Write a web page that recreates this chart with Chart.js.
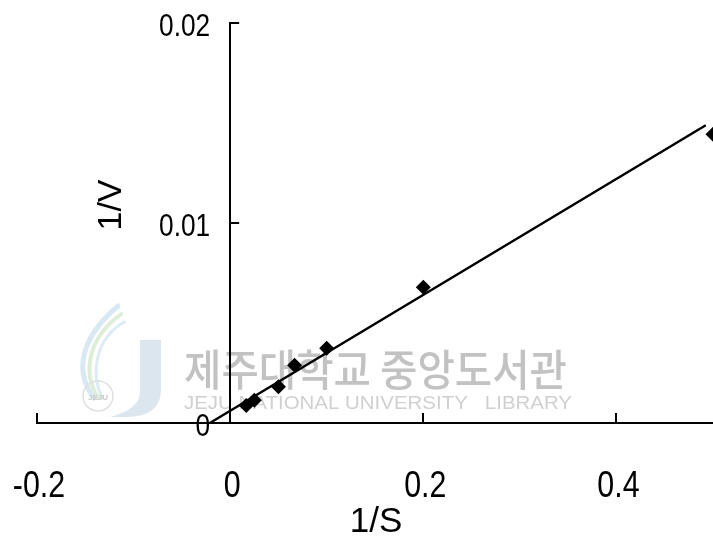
<!DOCTYPE html>
<html>
<head>
<meta charset="utf-8">
<script src="https://cdn.jsdelivr.net/npm/chart.js@4/dist/chart.umd.min.js"></script>
<style>
  html, body { margin: 0; padding: 0; background: #fff; }
  #wrap { width: 713px; height: 539px; }
</style>
</head>
<body>
<div id="wrap"><canvas id="c" width="713" height="539"></canvas></div>
<script>
// Lineweaver-Burk plot: 1/V against 1/S
const invS = [0.0167, 0.025, 0.05, 0.0667, 0.1, 0.2, 0.5];
const invV = [0.00088, 0.00114, 0.00181, 0.00289, 0.00374, 0.00679, 0.01444];

// end points of the fitted line
const fitX = [-0.021, 0.4925];
const fitY = [0, 0.01489];

const xTicks = [-0.2, 0, 0.2, 0.4];
const yTicks = [0, 0.01, 0.02];
const xTickLabels = ['-0.2', '0', '0.2', '0.4'];
const yTickLabels = ['0', '0.01', '0.02'];

const xTitle = '1/S';
const yTitle = '1/V';
const markKo = '제주대학교 중앙도서관';
const markEn = 'JEJU NATIONAL UNIVERSITY LIBRARY';

const regular = "'Liberation Sans', Arial, sans-serif";

function labelFor(list, labels, v) {
  const i = list.findIndex(t => Math.abs(t - v) < 1e-9);
  return i < 0 ? '' : labels[i];
}

// faint library stamp behind the plot
const stampPlugin = {
  id: 'stamp',
  beforeDraw(chart) {
    const ctx = chart.ctx;
    ctx.save();
    ctx.lineCap = 'round';
    const sw = [['#d8e9f3', 5, 0], ['#deedd8', 4, 8], ['#dcebf5', 3, 16]];
    sw.forEach(([c, w, o]) => {
      ctx.strokeStyle = c; ctx.lineWidth = w;
      ctx.beginPath();
      ctx.moveTo(118 + o * 0.4, 306 + o);
      ctx.bezierCurveTo(80 + o, 338, 74 + o, 372, 94 + o * 0.5, 398);
      ctx.stroke();
    });
    ctx.fillStyle = '#dce6ef';
    ctx.beginPath();
    ctx.moveTo(140, 340); ctx.lineTo(161, 340); ctx.lineTo(161, 392);
    ctx.quadraticCurveTo(159, 417, 126, 417); ctx.lineTo(110, 417);
    ctx.quadraticCurveTo(140, 409, 140, 392);
    ctx.closePath(); ctx.fill();
    ctx.strokeStyle = '#e0e0e0'; ctx.lineWidth = 1.5;
    ctx.beginPath(); ctx.arc(98, 396, 15, 0, Math.PI * 2); ctx.stroke();
    ctx.fillStyle = '#c9c9c9';
    ctx.font = "bold 8px 'Liberation Sans', sans-serif";
    ctx.textAlign = 'center';
    ctx.fillText('JEJU', 98, 400);

    // Korean line
    ctx.fillStyle = '#c2c2c2';
    ctx.textBaseline = 'alphabetic';
    ctx.textAlign = 'left';
    ctx.font = "500 43px 'Noto Sans CJK KR', sans-serif";
    let w = ctx.measureText(markKo).width;
    ctx.save();
    ctx.translate(184, 386);
    ctx.scale(383 / w, 1);
    ctx.fillText(markKo, 0, 0);
    ctx.restore();

    // English line
    ctx.fillStyle = '#d0d0d0';
    ctx.font = "19px 'Liberation Sans', sans-serif";
    const en = markEn.replace('UNIVERSITY ', 'UNIVERSITY   ');
    w = ctx.measureText(en).width;
    ctx.save();
    ctx.translate(184, 409);
    ctx.scale(388 / w, 1);
    ctx.fillText(en, 0, 0);
    ctx.restore();
    ctx.restore();
  }
};

// inward tick marks, condensed tick labels and axis titles
const axisPlugin = {
  id: 'axisExtras',
  afterDraw(chart) {
    const ctx = chart.ctx;
    const xs = chart.scales.x, ys = chart.scales.y;
    const x0 = xs.getPixelForValue(0), y0 = ys.getPixelForValue(0);
    ctx.save();
    ctx.strokeStyle = '#000';
    ctx.lineWidth = 2;
    ctx.beginPath();
    xs.ticks.forEach(t => {
      if (t.value === 0) return;
      const px = Math.round(xs.getPixelForValue(t.value));
      ctx.moveTo(px, y0); ctx.lineTo(px, y0 - 10);
    });
    ys.ticks.forEach(t => {
      if (t.value === 0) return;
      const py = Math.round(ys.getPixelForValue(t.value));
      ctx.moveTo(x0, py); ctx.lineTo(x0 + 9, py);
    });
    ctx.stroke();

    ctx.fillStyle = '#000';
    ctx.textBaseline = 'alphabetic';
    // x tick labels
    ctx.textAlign = 'center';
    ctx.font = '37px ' + regular;
    xs.ticks.forEach(t => {
      const s = labelFor(xTicks, xTickLabels, t.value);
      if (!s) return;
      ctx.save();
      ctx.translate(xs.getPixelForValue(t.value) + 2, y0 + 74);
      ctx.scale(0.82, 1);
      ctx.fillText(s, 0, 0);
      ctx.restore();
    });
    // y tick labels
    ctx.textAlign = 'right';
    ctx.font = '32px ' + regular;
    ys.ticks.forEach(t => {
      const s = labelFor(yTicks, yTickLabels, t.value);
      if (!s) return;
      ctx.save();
      ctx.translate(x0 - 20, ys.getPixelForValue(t.value) + 13);
      ctx.scale(0.82, 1);
      ctx.fillText(s, 0, 0);
      ctx.restore();
    });

    // axis titles
    ctx.textAlign = 'center';
    ctx.textBaseline = 'middle';
    ctx.font = '35px ' + regular;
    ctx.fillText(xTitle, 376, 522);
    ctx.save();
    ctx.translate(112, 205);
    ctx.rotate(-Math.PI / 2);
    ctx.font = '34px ' + regular;
    ctx.fillText(yTitle, 0, 0);
    ctx.restore();
    ctx.restore();
  }
};

const noPadX = (s) => { s.paddingLeft = 0; s.paddingRight = 0; };
const noPadY = (s) => { s.paddingTop = 0; s.paddingBottom = 0; };

new Chart(document.getElementById('c'), {
  type: 'scatter',
  data: {
    datasets: [
      {
        label: 'data',
        data: invS.map((x, i) => ({ x, y: invV[i] })),
        pointStyle: 'rectRot',
        pointRadius: 7.5,
        backgroundColor: '#000',
        borderColor: '#000',
        borderWidth: 0,
        showLine: false,
        clip: false,
        order: 1
      },
      {
        label: 'fit',
        data: fitX.map((x, i) => ({ x, y: fitY[i] })),
        showLine: true,
        borderColor: '#000',
        borderWidth: 2.5,
        pointRadius: 0,
        clip: false,
        order: 2
      }
    ]
  },
  options: {
    responsive: false,
    animation: false,
    devicePixelRatio: 1,
    layout: { autoPadding: false, padding: { left: 37, right: 0, top: 23, bottom: 116 } },
    plugins: {
      legend: { display: false },
      tooltip: { enabled: false }
    },
    scales: {
      x: {
        type: 'linear',
        position: { y: 0 },
        min: -0.2,
        max: 0.5,
        afterFit: noPadX,
        grid: { display: true, drawOnChartArea: false, drawTicks: false },
        border: { display: true, color: '#000', width: 2 },
        ticks: { stepSize: 0.2, includeBounds: false, display: false }
      },
      y: {
        type: 'linear',
        position: { x: 0 },
        min: 0,
        max: 0.02,
        afterFit: noPadY,
        grid: { display: true, drawOnChartArea: false, drawTicks: false },
        border: { display: true, color: '#000', width: 2 },
        ticks: { stepSize: 0.01, includeBounds: false, display: false }
      }
    }
  },
  plugins: [stampPlugin, axisPlugin]
});
</script>
</body>
</html>
